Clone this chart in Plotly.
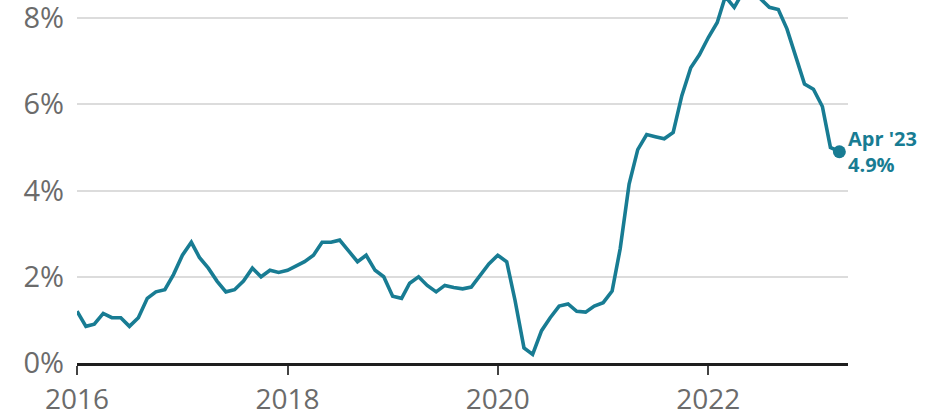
import plotly.graph_objects as go
import pandas as pd

# ---- data ----
start_month = "2016-01-01"
inflation = [
    # 2016
    1.2, 0.85, 0.9, 1.15, 1.05, 1.05, 0.85, 1.05, 1.5, 1.65, 1.7, 2.05,
    # 2017
    2.5, 2.8, 2.45, 2.2, 1.9, 1.65, 1.7, 1.9, 2.2, 2.0, 2.15, 2.1,
    # 2018
    2.15, 2.25, 2.35, 2.5, 2.8, 2.8, 2.85, 2.6, 2.35, 2.5, 2.15, 2.0,
    # 2019
    1.55, 1.5, 1.85, 2.0, 1.8, 1.65, 1.8, 1.75, 1.72, 1.76, 2.05, 2.3,
    # 2020
    2.5, 2.35, 1.45, 0.35, 0.2, 0.75, 1.05, 1.32, 1.37, 1.2, 1.18, 1.32,
    # 2021
    1.4, 1.67, 2.65, 4.15, 4.95, 5.3, 5.25, 5.2, 5.35, 6.2, 6.85, 7.15,
    # 2022
    7.55, 7.9, 8.5, 8.25, 8.6, 9.1, 8.45, 8.25, 8.2, 7.75, 7.1, 6.47,
    # 2023
    6.35, 5.95, 5.0, 4.9,
]
months = pd.date_range(start_month, periods=len(inflation), freq="MS")

tick_dates = ["2016-01-01", "2018-01-01", "2020-01-01", "2022-01-01"]
tick_labels = ["2016", "2018", "2020", "2022"]
y_ticks = [0, 2, 4, 6, 8]
y_tick_labels = ["0%", "2%", "4%", "6%", "8%"]

last_label = "Apr '23"
last_value_label = "4.9%"

# ---- style ----
TEAL = "#187c93"
GREY_TEXT = "#6b6b6b"
FONT = "Open Sans"

fig = go.Figure()
fig.add_trace(go.Scatter(
    x=months, y=inflation, mode="lines",
    line=dict(color=TEAL, width=3.6),
    hoverinfo="skip", showlegend=False,
))
fig.add_trace(go.Scatter(
    x=[months[-1]], y=[inflation[-1]], mode="markers",
    marker=dict(color=TEAL, size=13),
    hoverinfo="skip", showlegend=False, cliponaxis=False,
))

fig.add_annotation(x=months[-1], y=inflation[-1],
                   text="<b>" + last_label + "</b><br><b>" + last_value_label + "</b>",
                   showarrow=False, xanchor="left", yanchor="middle", align="left",
                   xshift=8, yshift=0, borderpad=0,
                   font=dict(family=FONT, size=20, color=TEAL))

fig.update_layout(
    width=947, height=415,
    margin=dict(l=77, r=99, t=0, b=52),
    paper_bgcolor="white", plot_bgcolor="white",
    font=dict(family=FONT, color=GREY_TEXT),
)
fig.update_xaxes(
    type="date", automargin=False,
    range=["2016-01-01", "2023-05-01"],
    tickvals=tick_dates, ticktext=tick_labels,
    ticks="outside", ticklen=9, tickwidth=2, tickcolor="#444",
    showline=True, linecolor="#1e1e1e", linewidth=3,
    showgrid=False, zeroline=False,
    tickfont=dict(family=FONT, size=28, color=GREY_TEXT),
    ticklabelstandoff=0,
)
fig.update_yaxes(
    range=[0, 8.42], automargin=False,
    tickvals=y_ticks, ticktext=y_tick_labels,
    ticks="", showline=False, zeroline=False,
    showgrid=True, gridcolor="#dcdcdc", gridwidth=1.5,
    tickfont=dict(family=FONT, size=29, color=GREY_TEXT),
    ticklabelstandoff=12, ticklabeloverflow="allow",
)

fig.write_html("out.html")
